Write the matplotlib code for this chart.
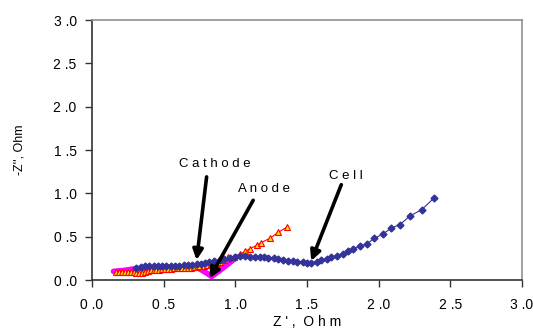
import numpy as np
import matplotlib
matplotlib.use('Agg')
import matplotlib.pyplot as plt

# Cell (blue diamonds)
cell_x = [0.31, 0.34, 0.37, 0.40, 0.43, 0.46, 0.49, 0.52, 0.55, 0.58, 0.61, 0.64, 0.67, 0.70,
          0.73, 0.76, 0.79, 0.82, 0.85, 0.89, 0.92, 0.96, 1.00, 1.03, 1.07, 1.10, 1.14, 1.17,
          1.20, 1.23, 1.27, 1.30, 1.33, 1.37, 1.40, 1.43, 1.47, 1.50, 1.53, 1.57, 1.60, 1.64,
          1.67, 1.71, 1.75, 1.79, 1.82, 1.87, 1.92, 1.97, 2.03, 2.09, 2.15, 2.22, 2.30, 2.39]
cell_y = [0.14, 0.15, 0.16, 0.16, 0.16, 0.16, 0.16, 0.16, 0.16, 0.16, 0.16, 0.17, 0.17, 0.17,
          0.18, 0.19, 0.20, 0.21, 0.22, 0.23, 0.24, 0.25, 0.27, 0.28, 0.28, 0.27, 0.27, 0.26,
          0.26, 0.25, 0.25, 0.24, 0.23, 0.22, 0.22, 0.21, 0.21, 0.20, 0.20, 0.21, 0.23, 0.24,
          0.26, 0.28, 0.30, 0.33, 0.36, 0.39, 0.42, 0.48, 0.53, 0.60, 0.64, 0.74, 0.81, 0.95]

# Cathode (red line, yellow triangles)
cath_x = [0.17, 0.19, 0.21, 0.23, 0.25, 0.27, 0.29, 0.31, 0.33, 0.35, 0.37, 0.39, 0.41, 0.43,
          0.45, 0.47, 0.49, 0.51, 0.53, 0.55, 0.57, 0.59, 0.61, 0.63, 0.65, 0.67, 0.69, 0.71,
          0.73, 0.75, 0.78, 0.80, 0.83, 0.85, 0.87, 0.89, 0.92, 0.95, 0.99, 1.03, 1.07, 1.10,
          1.15, 1.18, 1.24, 1.30, 1.36]
cath_y = [0.09, 0.09, 0.09, 0.09, 0.09, 0.09, 0.09, 0.08, 0.08, 0.08, 0.09, 0.10, 0.11, 0.12,
          0.12, 0.12, 0.13, 0.13, 0.13, 0.13, 0.14, 0.14, 0.14, 0.14, 0.14, 0.14, 0.14, 0.15,
          0.15, 0.16, 0.16, 0.17, 0.18, 0.19, 0.20, 0.21, 0.23, 0.26, 0.27, 0.30, 0.33, 0.36,
          0.40, 0.43, 0.48, 0.55, 0.61]

# Anode (thick magenta)
anode_x = [0.15, 0.22, 0.30, 0.40, 0.50, 0.60, 0.70, 0.74, 0.80, 0.835, 0.90, 1.00]
anode_y = [0.10, 0.11, 0.13, 0.14, 0.15, 0.15, 0.15, 0.14, 0.08, 0.04, 0.12, 0.25]

# labels: text, text position, arrow start, arrow tip
labels = [('C a t h o d e', (0.86, 1.34), (0.80, 1.19), (0.73, 0.23)),
          ('A n o d e', (1.20, 1.05), (1.125, 0.92), (0.82, 0.02)),
          ('C e l l', (1.77, 1.20), (1.74, 1.10), (1.53, 0.22))]

fig = plt.figure(figsize=(5.33, 3.28), dpi=100)
ax = fig.add_axes([0.1726, 0.1463, 0.8064, 0.7927])

ax.plot(anode_x, anode_y, color='#FF00FF', lw=4, solid_capstyle='round', zorder=2)
ax.plot(cath_x, cath_y, color='#FF0000', lw=0.8, marker='^', ms=5,
        mfc='#FFE000', mec='#FF0000', mew=0.8, zorder=3)
ax.plot(cell_x, cell_y, color='#333399', lw=0.8, marker='D', ms=3.5,
        mfc='#333399', mec='#333399', zorder=4)

for txt, tpos, start, tip in labels:
    ax.text(tpos[0], tpos[1], txt, ha='center', va='center', fontsize=9.5,
            family='Liberation Sans')
    ax.annotate('', xy=tip, xytext=start,
                arrowprops=dict(arrowstyle='-|>', color='black', lw=2.6,
                                mutation_scale=15, shrinkA=0, shrinkB=0), zorder=5)

ax.set_xlim(0, 3)
ax.set_ylim(0, 3)
ticks = np.arange(0, 3.01, 0.5)
tick_labels = ['{:.0f} .{:.0f}'.format(np.floor(t), (t % 1) * 10) for t in ticks]
ax.set_xticks(ticks)
ax.set_yticks(ticks)
ax.set_xticklabels(tick_labels, family='Liberation Sans', fontsize=10)
ax.set_yticklabels(tick_labels, family='Liberation Sans', fontsize=10)
ax.tick_params(direction='out', length=5, width=1, color='#333333', pad=6)
ax.tick_params(axis='x', pad=8)

ax.set_xlabel("Z ' ,  O h m", family='Liberation Sans', fontsize=10, labelpad=2)
ax.set_ylabel("-Z'', Ohm", family='Liberation Sans', fontsize=9, labelpad=20)

for s in ['left', 'bottom']:
    ax.spines[s].set_color('#333333')
    ax.spines[s].set_linewidth(1.2)
for s in ['top', 'right']:
    ax.spines[s].set_color('#909090')
    ax.spines[s].set_linewidth(1.2)

fig.savefig('out.png', dpi=100)
